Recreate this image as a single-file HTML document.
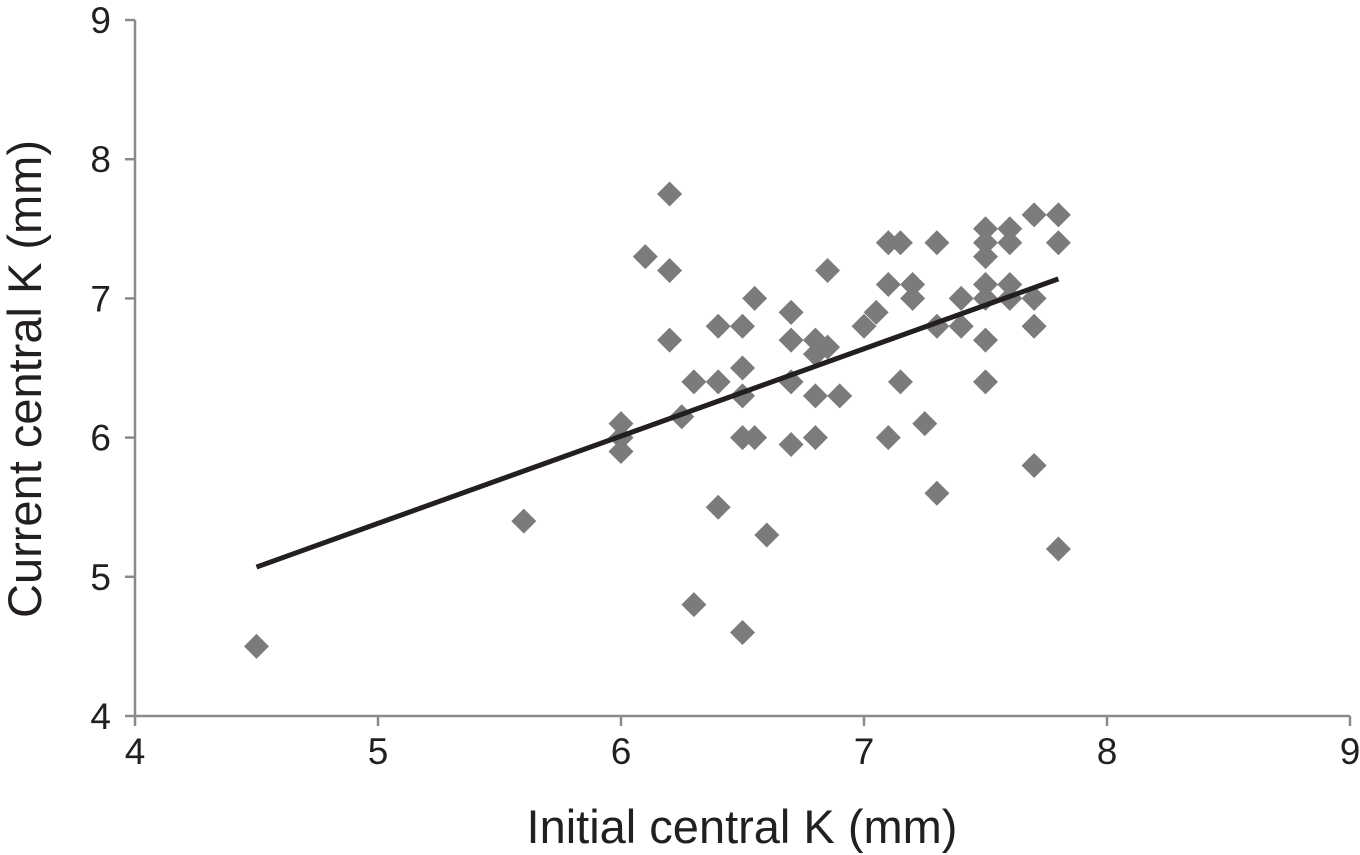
<!DOCTYPE html>
<html><head><meta charset="utf-8"><style>
html,body{margin:0;padding:0;background:#fff;}
svg{display:block;font-family:"Liberation Sans",Arial,sans-serif;}
</style></head><body>
<svg id="chart" width="1360" height="855">
<g id="axes"></g>
<g id="points"></g>
<g id="trend"></g>
<text x="742" y="843" text-anchor="middle" font-size="47" fill="#231f20">Initial central K (mm)</text>
<text transform="translate(41,379) rotate(-90)" text-anchor="middle" font-size="47" fill="#231f20">Current central K (mm)</text>
</svg>
<script>
const xTicks=[4,5,6,7,8,9];
const yTicks=[4,5,6,7,8,9];
const xVals=[4.5,5.6,6.0,6.0,6.0,6.1,6.2,6.2,6.2,6.25,6.3,6.3,6.4,6.4,6.4,6.5,6.5,6.5,6.5,6.5,6.55,6.55,6.6,6.7,6.7,6.7,6.7,6.8,6.8,6.8,6.8,6.85,6.85,6.9,7.0,7.05,7.1,7.1,7.1,7.15,7.15,7.2,7.2,7.25,7.3,7.3,7.3,7.4,7.4,7.5,7.5,7.5,7.5,7.5,7.5,7.5,7.6,7.6,7.6,7.6,7.7,7.7,7.7,7.7,7.8,7.8,7.8];
const yVals=[4.5,5.4,6.1,6.0,5.9,7.3,7.75,7.2,6.7,6.15,6.4,4.8,6.8,6.4,5.5,6.8,6.5,6.3,6.0,4.6,7.0,6.0,5.3,6.9,6.7,6.4,5.95,6.7,6.6,6.3,6.0,6.65,7.2,6.3,6.8,6.9,7.4,7.1,6.0,7.4,6.4,7.1,7.0,6.1,7.4,6.8,5.6,7.0,6.8,7.5,7.4,7.3,7.1,7.0,6.7,6.4,7.5,7.4,7.1,7.0,7.6,7.0,6.8,5.8,7.6,7.4,5.2];
const trendX=[4.5,7.8];
const trendY=[5.07,7.14];
const NS="http://www.w3.org/2000/svg";
const X0=135,X1=1350,Y0=716,Y1=20;
function sx(v){return X0+(v-4)/(9-4)*(X1-X0);}
function sy(v){return Y0-(v-4)/(9-4)*(Y0-Y1);}
function mk(tag,attrs,parent){const e=document.createElementNS(NS,tag);for(const k in attrs)e.setAttribute(k,attrs[k]);parent.appendChild(e);return e;}
const axes=document.getElementById('axes');
let l=mk('line',{x1:X0,y1:Y0,x2:X1,y2:Y0,stroke:'#8a8a8a','stroke-width':2.5},axes);


l=mk('line',{x1:X0,y1:Y0,x2:X0,y2:Y1,stroke:'#8a8a8a','stroke-width':2.5},axes);


xTicks.forEach(t=>{
  const x=sx(t);
  mk('line',{x1:x,y1:Y0,x2:x,y2:Y0+10,stroke:'#8a8a8a','stroke-width':2.5},axes);
  const tx=mk('text',{x:x,y:Y0+48,'text-anchor':'middle','font-size':37,fill:'#231f20'},axes);
  tx.textContent=t;
  
  
});
yTicks.forEach(t=>{
  const y=sy(t);
  mk('line',{x1:X0-10,y1:y,x2:X0,y2:y,stroke:'#8a8a8a','stroke-width':2.5},axes);
  const tx=mk('text',{x:X0-24,y:y+13,'text-anchor':'end','font-size':37,fill:'#231f20'},axes);
  tx.textContent=t;
  
  
});
const pts=document.getElementById('points');
xVals.forEach((v,i)=>{
  const x=sx(v),y=sy(yVals[i]),r=12.5;
  const p=mk('polygon',{points:`${x},${y-r} ${x+r},${y} ${x},${y+r} ${x-r},${y}`,fill:'#7b7b7b'},pts);
  
  
});
const tr=document.getElementById('trend');
const tl=mk('line',{x1:sx(trendX[0]),y1:sy(trendY[0]),x2:sx(trendX[1]),y2:sy(trendY[1]),stroke:'#231f20','stroke-width':5},tr);


</script>
</body></html>
